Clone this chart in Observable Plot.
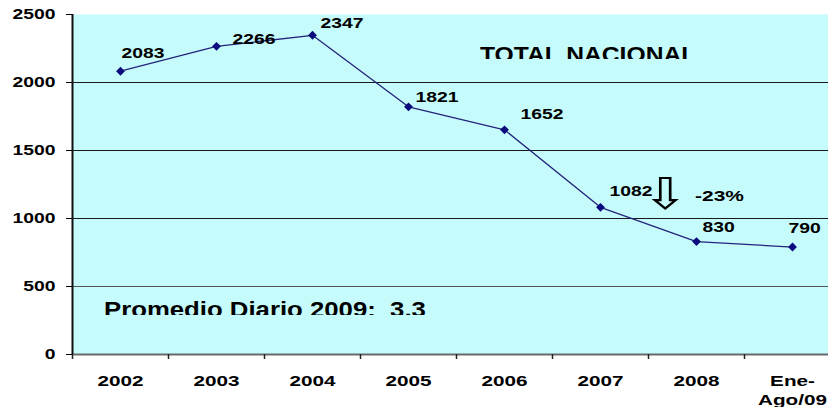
<!DOCTYPE html>
<html><head><meta charset="utf-8">
<script src="https://cdn.jsdelivr.net/npm/d3@7"></script>
<script src="https://cdn.jsdelivr.net/npm/@observablehq/plot@0.6"></script>
<style>
html,body{margin:0;padding:0;overflow:hidden;background:#fff;width:828px;height:407px}
#wrap{position:relative;width:828px;height:407px;overflow:hidden}
#wrap svg{position:absolute;left:0;top:0;overflow:visible;max-width:none !important;width:840px !important;height:407px !important}
.clip{position:absolute;overflow:hidden;width:500px;font-family:"Liberation Sans",Arial,sans-serif;font-weight:bold;color:#000;white-space:pre;font-size:22px;line-height:22px}
.clip span{display:inline-block;transform-origin:0 0;white-space:pre}
</style></head><body><div id="wrap"></div>
<script>
// ---- data ----
const categories = ["2002", "2003", "2004", "2005", "2006", "2007", "2008", "Ene-\nAgo/09"];
const values = [2083, 2266, 2347, 1821, 1652, 1082, 830, 790];
const yTicks = [0, 500, 1000, 1500, 2000, 2500];
const gridValues = [500, 1000, 1500, 2000];
const titleText = "TOTAL NACIONAL";
const noteText = "Promedio Diario 2009:  3,3";
const changeText = "-23%";
const arrowGlyph = "\u21E9";

// ---- layout (label offsets in px) ----
const labelDx = [1, 16, 8, 7, 16, 9, 6, -4];
const labelDy = [-18, -7, -12, -9, -15, -16, -14, -19];

const rows = categories.map((c, i) => ({cat: c, i: i + 0.5, v: values[i]}));
const bg = "#c6fbfb";
const font = "'Liberation Sans', Arial, sans-serif";

const labelMarks = rows.map((d, k) =>
  Plot.text([d], {x: "i", y: "v", text: r => String(r.v), textAnchor: "start",
    dx: labelDx[k], dy: labelDy[k], fontSize: 14, fontWeight: "bold", fill: "#000"}));

const p2007 = rows[5];

const chart = Plot.plot({
  width: 840, height: 407,
  marginLeft: 72, marginRight: 0, marginTop: 14, marginBottom: 53,
  style: {fontFamily: font, background: "transparent", overflow: "visible", maxWidth: "none"},
  x: {domain: [0, categories.length], axis: null, label: null},
  y: {domain: [0, 2500], axis: null, label: null},
  marks: [
    Plot.frame({fill: bg, stroke: null}),
    Plot.ruleY(gridValues, {stroke: d => d === 500 ? "#555" : "#1a1a1a", strokeWidth: 1.2}),
    Plot.ruleY([0], {stroke: "#6a6a6a", strokeWidth: 2}),
    Plot.axisX(d3.range(categories.length + 1), {tickSize: 5, tickFormat: () => "", label: null, stroke: "#222", strokeWidth: 1.5}),
    Plot.axisX(rows.map(d => d.i), {tickSize: 0, tickPadding: 18, fontSize: 15, fontWeight: "bold", lineHeight: 1.27,
      label: null, tickFormat: v => categories[Math.floor(v)], fill: "#000"}),
    Plot.ruleX([0], {stroke: "#111", strokeWidth: 2}),
    Plot.axisY(yTicks, {tickSize: 6, tickPadding: 11, fontSize: 14, fontWeight: "bold", label: null,
      tickFormat: d => String(d), stroke: "#000", fill: "#000"}),
    Plot.line(rows, {x: "i", y: "v", stroke: "#23237a", strokeWidth: 1.3}),
    Plot.dot(rows, {x: "i", y: "v", symbol: "diamond2", r: 4, fill: "#0b0b7e", stroke: null}),
    ...labelMarks,
    Plot.text([p2007], {x: "i", y: "v", text: () => arrowGlyph, dx: 65, dy: -12, fontSize: 44,
      fontFamily: "DejaVu Sans", fill: "#000"}),
    Plot.text([p2007], {x: "i", y: "v", text: () => changeText, dx: 119, dy: -11, fontSize: 15,
      fontWeight: "bold", fill: "#000"})
  ]
});

// horizontal stretch of the text (the source picture is stretched)
chart.querySelectorAll("text").forEach(t => {
  const s = t.textContent;
  const sx = s.includes(arrowGlyph) ? 1.25 : s === changeText ? 1.4 : 1.38;
  const tr = t.getAttribute("transform");
  if (tr) t.setAttribute("transform", tr + ` scale(${sx},1)`);
  else {
    const x = +(t.getAttribute("x") || 0), y = +(t.getAttribute("y") || 0);
    t.removeAttribute("x"); t.removeAttribute("y");
    t.setAttribute("transform", `translate(${x},${y}) scale(${sx},1)`);
  }
});

const wrap = document.getElementById("wrap");
wrap.appendChild(chart);

function clipped(txt, left, top, h, sx) {
  const d = document.createElement("div");
  d.className = "clip";
  d.style.left = left + "px"; d.style.top = top + "px"; d.style.height = h + "px";
  const s = document.createElement("span");
  s.textContent = txt; s.style.transform = `scaleX(${sx})`;
  d.appendChild(s);
  wrap.appendChild(d);
}
clipped(titleText, 479.5, 44, 15, 1.12);
clipped(noteText, 104, 299, 16, 1.17);
</script>
</body></html>
